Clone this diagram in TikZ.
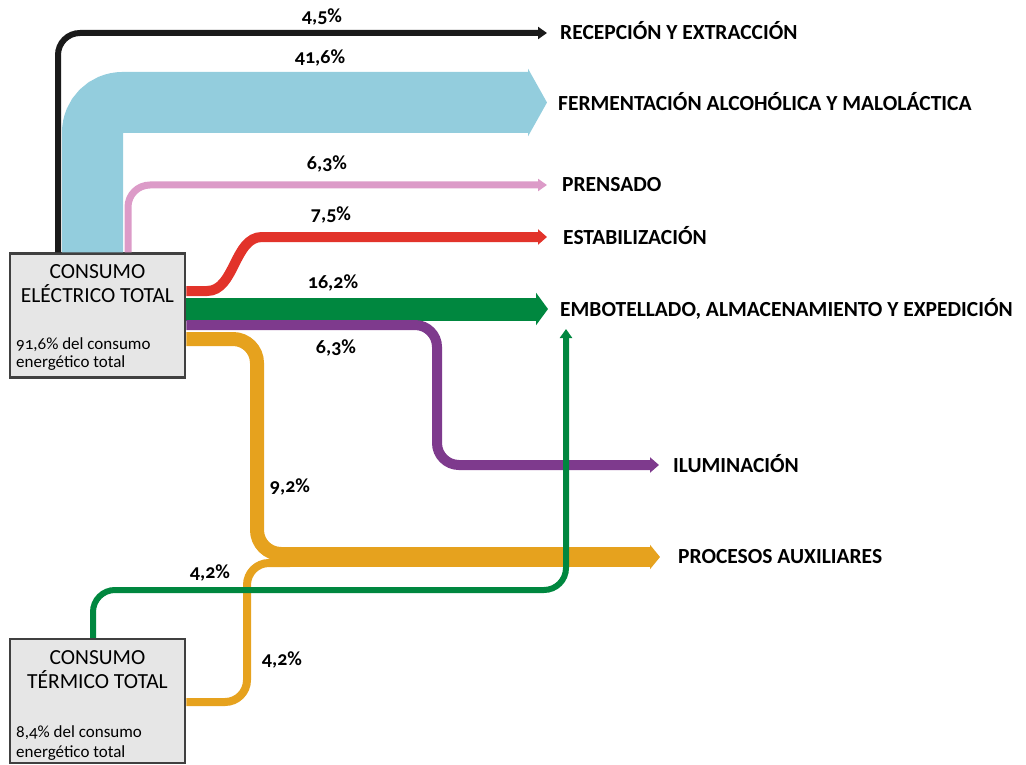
\documentclass[tikz,border=0pt]{standalone}
\usepackage{fontspec}
\setmainfont{Carlito}[Numbers=OldStyle]
\usepackage{tikz}
\definecolor{negro}{HTML}{1A1A1A}
\definecolor{azul}{HTML}{93CDDD}
\definecolor{rosa}{HTML}{DC9BC8}
\definecolor{rojo}{HTML}{E2332A}
\definecolor{verde}{HTML}{00873F}
\definecolor{morado}{HTML}{7E3A8D}
\definecolor{naranja}{HTML}{E6A21E}
\definecolor{gris}{HTML}{E6E6E6}
\usetikzlibrary{arrows.meta,calc}

\begin{document}
\begin{tikzpicture}[x=1pt,y=-1pt,
  caja/.style={draw=black!75,line width=2.5pt,fill=gris,minimum width=175pt},
  titulo/.style={align=center,font=\fontsize{21.5}{24}\selectfont,inner sep=0pt},
  nota/.style={align=left,anchor=west,inner sep=0pt},
  etiqueta/.style={anchor=west,font=\bfseries\fontsize{21.5}{24}\selectfont,text height=14pt,text depth=0pt,inner sep=0pt},
  pct/.style={font=\bfseries\fontsize{20}{24}\selectfont}]
\useasboundingbox (0,0) rectangle (1026,765);

  % cajas
\node[caja,minimum height=124pt] at (97.5,315.5) (elec) {};
\node[titulo] at (97.5,284) (elect) {CONSUMO\\ELÉCTRICO TOTAL};
\node[nota,font=\fontsize{17}{18}\selectfont] at (16,354) (elecn) {91,6\% del consumo\\energético total};

\node[caja,minimum height=124pt] at (97.5,701) (term) {};
\node[titulo] at (97.5,669.5) (termt) {CONSUMO\\TÉRMICO TOTAL};
\node[nota,font=\fontsize{17}{20}\selectfont] at (16,743) (termn) {8,4\% del consumo\\energético total};

  % puntos de paso
\coordinate (k1) at (58,33);
\coordinate (kf) at (547,33);
\coordinate (f1) at (92.5,102.5);
\coordinate (ff) at (547,102.5);
\coordinate (p1) at (128,185);
\coordinate (pf) at (547,185);
\coordinate (r0) at (207,291);
\coordinate (r1) at (262,237);
\coordinate (rf) at (547,237);
\coordinate (e0) at (200,309);
\coordinate (ef) at (548,309);
\coordinate (m1) at (437,325);
\coordinate (m2) at (437,465);
\coordinate (mf) at (659,465);
\coordinate (o1) at (257,339);
\coordinate (o2) at (257,554);
\coordinate (o3) at (290,554);
\coordinate (q1) at (247,702);
\coordinate (q2) at (247,563);
\coordinate (q3) at (290,563);
\coordinate (a0) at (280,557);
\coordinate (af) at (660,557);
\coordinate (g1) at (93,590);
\coordinate (g2) at (566,590);
\coordinate (gf) at (566,329);

  % flujos
\draw[azul,line width=61pt,rounded corners=30pt,-{Triangle[length=19pt,width=67pt]}] (elec.north -| f1) |- (ff);
\draw[negro,line width=6pt,rounded corners=22pt,-{Triangle[length=9pt,width=12pt]}] (elec.north -| k1) |- (kf);
\draw[rosa,line width=7pt,rounded corners=22pt,-{Triangle[length=9pt,width=12pt]}] (elec.north -| p1) |- (pf);
\draw[rojo,line width=10pt,-{Triangle[length=9pt,width=15pt]}] (elec.east |- r0) -- (r0) .. controls (235,291) and (234,237) .. (r1) -- (rf);
\draw[verde,line width=23pt,-{Triangle[length=12pt,width=32pt]}] (elec.east |- e0) -- (ef);
\draw[morado,line width=10pt,rounded corners=22pt,-{Triangle[length=9pt,width=15pt]}] (elec.east |- m1) -- (m1) -- (m2) -- (mf);
\draw[naranja,line width=14pt,rounded corners=24pt] (elec.east |- o1) -- (o1) -- (o2) -- (o3);
\draw[naranja,line width=8pt,rounded corners=22pt] (term.east |- q1) -- (q1) -- (q2) -- (q3);
\draw[naranja,line width=20pt,-{Triangle[length=10pt,width=24pt]}] (a0) -- (af);
\draw[verde,line width=6pt,rounded corners=22pt,-{Triangle[length=9pt,width=12pt]}] (term.north -| g1) -- (g1) -- (g2) -- (gf);

  % destinos
\node[etiqueta] at (560,33) (recep) {RECEPCIÓN Y EXTRACCIÓN};
\node[etiqueta] at (558,104) (ferm) {FERMENTACIÓN ALCOHÓLICA Y MALOLÁCTICA};
\node[etiqueta] at (562,185) (prens) {PRENSADO};
\node[etiqueta] at (563,237) (estab) {ESTABILIZACIÓN};
\node[etiqueta] at (560,309) (embot) {EMBOTELLADO, ALMACENAMIENTO Y EXPEDICIÓN};
\node[etiqueta] at (673,465) (ilum) {ILUMINACIÓN};
\node[etiqueta] at (678,556) (aux) {PROCESOS AUXILIARES};

  % porcentajes
\node[pct] at (322,17) (c1) {4,5\%};
\node[pct] at (320,58) (c2) {41,6\%};
\node[pct] at (327,164) (c3) {6,3\%};
\node[pct] at (331,215) (c4) {7,5\%};
\node[pct] at (333,283) (c5) {16,2\%};
\node[pct] at (336,348) (c6) {6,3\%};
\node[pct] at (290,487) (c7) {9,2\%};
\node[pct] at (210,573) (c8) {4,2\%};
\node[pct] at (282,660) (c9) {4,2\%};
\end{tikzpicture}
\end{document}
